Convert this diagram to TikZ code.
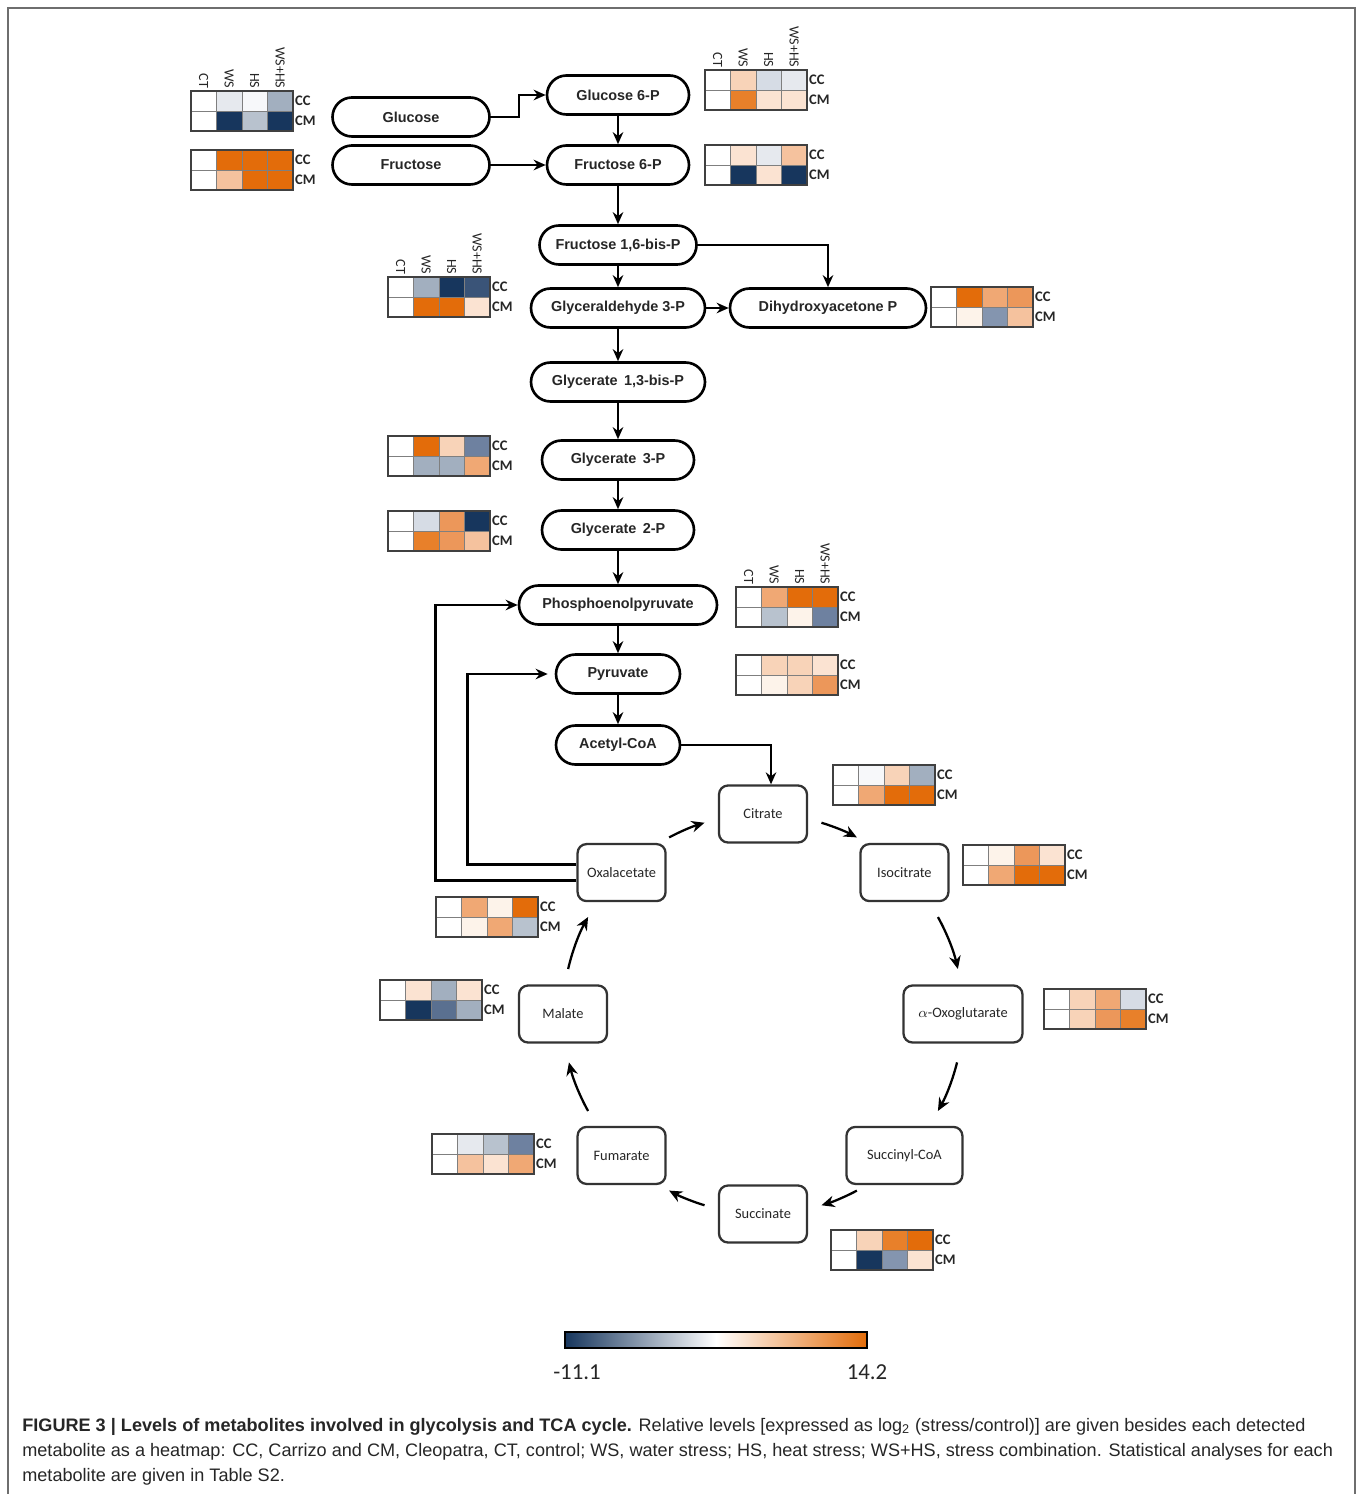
\documentclass[tikz,border=0pt]{standalone}
\usepackage{fontspec}
\setmainfont{Liberation Sans}
\newfontfamily\calfont{Carlito}
\newfontfamily\capfont{Liberation Sans}
\usepackage{xcolor}
\usetikzlibrary{shapes, arrows.meta, positioning}

\definecolor{hnavy}{HTML}{17365D}
\definecolor{hslate}{HTML}{3A5478}
\definecolor{hdusk}{HTML}{5A7090}
\definecolor{hsteel}{HTML}{6E81A0}
\definecolor{hpewter}{HTML}{8495AF}
\definecolor{hgreyblue}{HTML}{A2AFBF}
\definecolor{hsilver}{HTML}{B8C2CE}
\definecolor{hcloud}{HTML}{D6DCE5}
\definecolor{hmist}{HTML}{E6E9EE}
\definecolor{hsnow}{HTML}{F7F8FA}
\definecolor{hcream}{HTML}{FDF3EA}
\definecolor{hblush}{HTML}{FBE3D2}
\definecolor{hpeach}{HTML}{F8D3B8}
\definecolor{happricot}{HTML}{F5C29E}
\definecolor{hsalmon}{HTML}{F0A874}
\definecolor{htangerine}{HTML}{EC975A}
\definecolor{hamber}{HTML}{E8802A}
\definecolor{horange}{HTML}{E36C0A}
\definecolor{cellgrey}{HTML}{7F7F7F}
\definecolor{framegrey}{HTML}{404040}
\definecolor{boxgrey}{HTML}{333333}
\definecolor{textgrey}{HTML}{262626}
\definecolor{pagegrey}{HTML}{6E6E6E}

% heatmap: name, top-left corner, CC colours, CM colours
\newcommand{\heatgrid}[4]{%
  \begin{scope}[shift={#2}]
    \foreach \c [count=\i from 0] in {#3}
      \draw[cellline, fill=\c] (\i*0.51,0) rectangle ++(0.51,-0.4);
    \foreach \c [count=\i from 0] in {#4}
      \draw[cellline, fill=\c] (\i*0.51,-0.4) rectangle ++(0.51,-0.4);
    \draw[gridframe] (0,0) rectangle (2.04,-0.8);
    \draw[gridframe, line width=1.6pt] (0,-0.8) -- (2.04,-0.8);
    \node (#1-cc) [rowlab] at (2.04,-0.2) {CC};
    \node (#1-cm) [rowlab] at (2.04,-0.6) {CM};
  \end{scope}}
\newcommand{\heathead}[2]{%
  \begin{scope}[shift={#2}]
    \foreach \l [count=\i from 0] in {CT,WS,HS,WS+HS}
      \node (#1-h\i) [collab] at (\i*0.51+0.255,0.01) {\l};
  \end{scope}}

\begin{document}
\begin{tikzpicture}[node distance=1.4cm]
\tikzstyle{metab} = [rectangle, rounded corners=0.39cm, minimum height=0.78cm, text centered, draw=black, line width=1.5pt, text=textgrey, font=\fontsize{8.2}{10}\selectfont\bfseries]
\tikzstyle{tcabox} = [rectangle, rounded corners=0.18cm, minimum width=1.76cm, minimum height=1.14cm, text centered, draw=boxgrey, line width=1.3pt, text=textgrey, font=\calfont\fontsize{8.2}{10}\selectfont]
\tikzstyle{arrow} = [line width=1.3pt, -{Stealth[length=2.4mm, width=2.1mm]}]
\tikzstyle{cycarrow} = [line width=1.3pt, -{Stealth[length=2.6mm, width=2.3mm]}]
\tikzstyle{cellline} = [draw=cellgrey, line width=0.5pt]
\tikzstyle{gridframe} = [draw=framegrey, line width=0.9pt]
\tikzstyle{rowlab} = [anchor=west, inner sep=1pt, text=textgrey, font=\calfont\fontsize{8.3}{9}\selectfont\bfseries]
\tikzstyle{collab} = [anchor=east, rotate=-90, inner sep=1pt, text=textgrey, font=\calfont\fontsize{8}{9}\selectfont]
\tikzstyle{caption} = [anchor=base west, inner sep=0pt, text=textgrey, font=\capfont\fontsize{10.3}{12}\selectfont]

\useasboundingbox (0,0) rectangle (27.16,-29.88);
\draw[pagegrey, line width=1.1pt] (0.16,-29.88) -- (0.16,-0.16) -- (27.10,-0.16) -- (27.10,-29.88);

\node (g6p) [metab, minimum width=2.84cm] at (12.36,-1.9) {Glucose 6-P};
\node (f6p) [metab, minimum width=2.84cm, below of=g6p] {Fructose 6-P};
\node (fru) [metab, minimum width=3.14cm, left of=f6p, node distance=4.14cm] {Fructose};
\node (glc) [metab, minimum width=3.14cm, above of=fru, node distance=0.96cm] {Glucose};
\node (f16) [metab, minimum width=3.14cm, below of=f6p, node distance=1.6cm] {Fructose 1,6-bis-P};
\node (ga3p) [metab, minimum width=3.48cm, below of=f16, node distance=1.26cm] {Glyceraldehyde 3-P};
\node (dhap) [metab, minimum width=3.92cm, right of=ga3p, node distance=4.2cm] {Dihydroxyacetone P};
\node (g13) [metab, minimum width=3.48cm, below of=ga3p, node distance=1.48cm] {Glycerate\, 1,3-bis-P};
\node (g3p) [metab, minimum width=3.04cm, below of=g13, node distance=1.56cm] {Glycerate\, 3-P};
\node (g2p) [metab, minimum width=3.04cm, below of=g3p] {Glycerate\, 2-P};
\node (pep) [metab, minimum width=3.96cm, below of=g2p, node distance=1.5cm] {Phosphoenolpyruvate};
\node (pyr) [metab, minimum width=2.48cm, below of=pep, node distance=1.38cm] {Pyruvate};
\node (acoa) [metab, minimum width=2.48cm, below of=pyr, node distance=1.42cm] {Acetyl-CoA};

\coordinate (tca) at (15.26,-20.28);
\node (cit) [tcabox] at ([shift={(90:4)}]tca) {Citrate};
\node (iso) [tcabox] at ([shift={(45:4)}]tca) {Isocitrate};
\node (oxo) [tcabox, minimum width=2.38cm] at ([shift={(0:4)}]tca) {$\alpha$-Oxoglutarate};
\node (scoa) [tcabox, minimum width=2.32cm] at ([shift={(-45:4)}]tca) {Succinyl-CoA};
\node (suc) [tcabox] at ([shift={(-90:4)}]tca) {Succinate};
\node (fum) [tcabox] at ([shift={(-135:4)}]tca) {Fumarate};
\node (mal) [tcabox] at ([shift={(180:4)}]tca) {Malate};
\node (oxa) [tcabox] at ([shift={(135:4)}]tca) {Oxalacetate};

\draw [arrow] (glc.east) -- ++(0.56,0) |- (g6p.west);
\draw [arrow] (fru) -- (f6p);
\draw [arrow] (g6p) -- (f6p);
\draw [arrow] (f6p) -- (f16);
\draw [arrow] (f16) -- (ga3p);
\draw [arrow] (f16.east) -| (dhap.north);
\draw [arrow] (ga3p) -- (dhap);
\draw [arrow] (ga3p) -- (g13);
\draw [arrow] (g13) -- (g3p);
\draw [arrow] (g3p) -- (g2p);
\draw [arrow] (g2p) -- (pep);
\draw [arrow] (pep) -- (pyr);
\draw [arrow] (pyr) -- (acoa);
\draw [arrow] (acoa.east) -| ([xshift=0.16cm]cit.north);
\draw [arrow] ([yshift=-0.16cm]oxa.west) -- ++(-2.82,0) |- (pep.west);
\draw [arrow] ([yshift=0.16cm]oxa.west) -- ++(-2.18,0) |- ([xshift=-0.14cm]pyr.west);

\foreach \a/\b in {118/107, 73/62, 29/13, -14/-29, -62/-73, -107/-118, -151/-166, 167/151}
  \draw [cycarrow] ([shift={(\a:4)}]tca) arc[start angle=\a, end angle=\b, radius=4cm];

\heatgrid{glcmap}{(3.82,-1.82)}{white,hmist,hsnow,hgreyblue}{white,hnavy,hsilver,hnavy}
\heathead{glcmap}{(3.82,-1.82)}
\heatgrid{frumap}{(3.82,-3.0)}{white,horange,horange,horange}{white,happricot,horange,horange}
\heatgrid{g6pmap}{(14.1,-1.4)}{white,hpeach,hcloud,hmist}{white,hamber,hblush,hblush}
\heathead{g6pmap}{(14.1,-1.4)}
\heatgrid{f6pmap}{(14.1,-2.9)}{white,hblush,hmist,happricot}{white,hnavy,hblush,hnavy}
\heatgrid{ga3pmap}{(7.76,-5.54)}{white,hgreyblue,hnavy,hslate}{white,horange,horange,hblush}
\heathead{ga3pmap}{(7.76,-5.54)}
\heatgrid{dhapmap}{(18.62,-5.74)}{white,horange,hsalmon,htangerine}{white,hcream,hpewter,happricot}
\heatgrid{g3pmap}{(7.76,-8.72)}{white,horange,hpeach,hsteel}{white,hgreyblue,hgreyblue,hsalmon}
\heatgrid{g2pmap}{(7.76,-10.22)}{white,hcloud,htangerine,hnavy}{white,hamber,htangerine,happricot}
\heatgrid{pepmap}{(14.72,-11.74)}{white,hsalmon,horange,horange}{white,hsilver,hcream,hsteel}
\heathead{pepmap}{(14.72,-11.74)}
\heatgrid{pyrmap}{(14.72,-13.1)}{white,hpeach,hpeach,hblush}{white,hcream,hpeach,htangerine}
\heatgrid{citmap}{(16.66,-15.3)}{white,hsnow,hpeach,hgreyblue}{white,hsalmon,horange,horange}
\heatgrid{isomap}{(19.26,-16.9)}{white,hcream,htangerine,hblush}{white,hsalmon,horange,horange}
\heatgrid{oxamap}{(8.72,-17.94)}{white,hsalmon,hcream,horange}{white,hcream,hsalmon,hsilver}
\heatgrid{malmap}{(7.6,-19.6)}{white,hblush,hgreyblue,hblush}{white,hnavy,hdusk,hgreyblue}
\heatgrid{oxomap}{(20.88,-19.78)}{white,hpeach,hsalmon,hcloud}{white,hpeach,htangerine,hamber}
\heatgrid{fummap}{(8.64,-22.68)}{white,hmist,hsilver,hsteel}{white,happricot,hblush,hsalmon}
\heatgrid{sucmap}{(16.62,-24.6)}{white,hpeach,hamber,horange}{white,hnavy,hpewter,hblush}

\shade[left color=hnavy, right color=horange, middle color=white] (11.3,-26.64) rectangle (17.34,-26.96);
\draw[line width=1.3pt] (11.3,-26.64) rectangle (17.34,-26.96);
\node (scalemin) [font=\calfont\fontsize{13}{15}\selectfont, text=textgrey] at (11.54,-27.44) {-11.1};
\node (scalemax) [font=\calfont\fontsize{13}{15}\selectfont, text=textgrey] at (17.34,-27.44) {14.2};

\node (capa) [caption] at (0.44,-28.62) {\textbf{FIGURE 3 | Levels of metabolites involved in glycolysis and TCA cycle.} Relative levels [expressed as log\textsubscript{2} (stress/control)] are given besides each detected};
\node (capb) [caption] at (0.44,-29.12) {metabolite as a heatmap: CC, Carrizo and CM, Cleopatra, CT, control; WS, water stress; HS, heat stress; WS+HS, stress combination. Statistical analyses for each};
\node (capc) [caption] at (0.44,-29.62) {metabolite are given in Table S2.};
\end{tikzpicture}
\end{document}
